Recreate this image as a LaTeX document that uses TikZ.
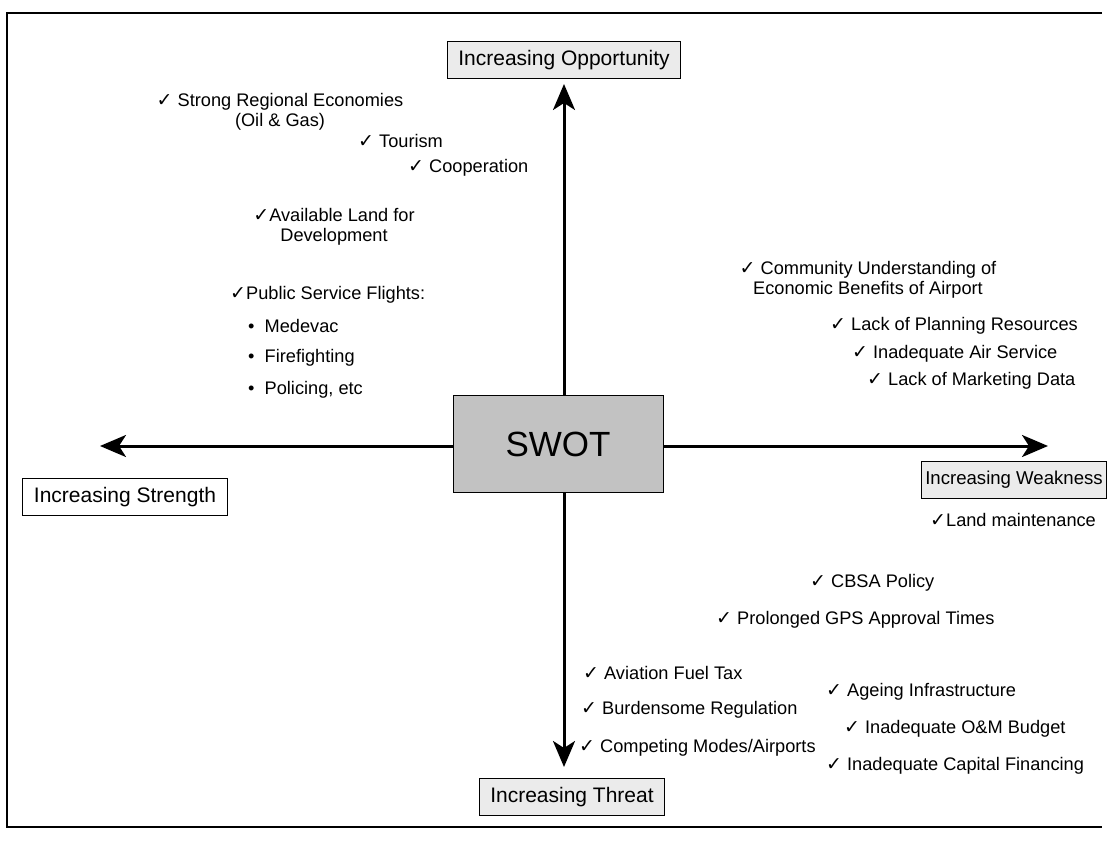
\documentclass[tikz,border=0pt]{standalone}
\usepackage{fontspec}
\setmainfont{Liberation Sans}
\newfontfamily\ckfont{DejaVu Sans}
\usetikzlibrary{arrows.meta}
\newcommand\ck{{\ckfont\fontsize{19}{20}\selectfont ✓}}
\begin{document}
\begin{tikzpicture}[x=1pt,y=-1pt,
  item/.style={anchor=west, inner sep=0pt, font=\fontsize{18.2}{20.5}\selectfont},
  citem/.style={inner sep=0pt, align=center, font=\fontsize{18.2}{20.5}\selectfont},
  label/.style={draw, line width=1pt, fill=black!8, inner xsep=11pt, inner ysep=3pt, minimum height=37pt, font=\fontsize{21}{25}\selectfont},
  axis/.style={line width=3pt, -{Stealth[length=26pt,width=22pt,inset=7pt]}}]
\useasboundingbox (0,0) rectangle (1110,845);
\fill[white] (0,0) rectangle (1110,845);
\draw[line width=1.6pt] (1102,13) -- (7,13) -- (7,827) -- (1102,827);

% axes
\node[draw, line width=1pt, fill=black!24, minimum width=210pt, minimum height=97pt, inner sep=0pt,
  font=\fontsize{35}{40}\selectfont] (swot) at (558,444) {SWOT};
\coordinate (tipN) at (564,84);
\coordinate (tipS) at (564,767);
\coordinate (tipW) at (100,446);
\coordinate (tipE) at (1048,446);
\draw[axis] (tipN |- swot.north) -- (tipN);
\draw[axis] (tipS |- swot.south) -- (tipS);
\draw[axis] (swot.west |- tipW) -- (tipW);
\draw[axis] (swot.east |- tipE) -- (tipE);

% axis labels
\node[label] (opp) at (564,60) {Increasing Opportunity};
\node[label, fill=white] (str) at (125,497) {Increasing Strength};
\node[label, inner xsep=4pt, font=\fontsize{18.6}{22}\selectfont] (weak) at (1014,480) {Increasing Weakness};
\node[label] (thr) at (572,797) {Increasing Threat};

% upper left
\node[citem] (sre) at (280,112) {\ck\ Strong Regional Economies\\(Oil \& Gas)};
\node[item] (tour) at (358,141) {\ck\ Tourism};
\node[item] (coop) at (408,168) {\ck\ Cooperation};
\node[citem] (land) at (334,227) {\ck Available Land for\\Development};
\node[item] (psf) at (230,295) {\ck Public Service Flights:};
\node[item] (med) at (248,326) {\textbullet\ \ Medevac};
\node[item] (fire) at (248,358) {\textbullet\ \ Firefighting};
\node[item] (pol) at (248,390) {\textbullet\ \ Policing, etc};

% upper right
\node[citem] (comm) at (868,280) {\ck\ Community Understanding of\\Economic Benefits of Airport};
\node[item] (lpr) at (830,326) {\ck\ Lack of Planning Resources};
\node[item] (ias) at (852,354) {\ck\ Inadequate Air Service};
\node[item] (lmd) at (867,381) {\ck\ Lack of Marketing Data};

% lower right
\node[item] (lm) at (930,520) {\ck Land maintenance};
\node[item] (cbsa) at (810,583) {\ck\ CBSA Policy};
\node[item] (gps) at (716,620) {\ck\ Prolonged GPS Approval Times};
\node[item] (aft) at (583,673) {\ck\ Aviation Fuel Tax};
\node[item] (bur) at (581,710) {\ck\ Burdensome Regulation};
\node[item] (cmp) at (579,748) {\ck\ Competing Modes/Airports};
\node[item] (age) at (826,692) {\ck\ Ageing Infrastructure};
\node[item] (omb) at (844,729) {\ck\ Inadequate O\&M Budget};
\node[item] (icf) at (826,766) {\ck\ Inadequate Capital Financing};
\end{tikzpicture}
\end{document}
